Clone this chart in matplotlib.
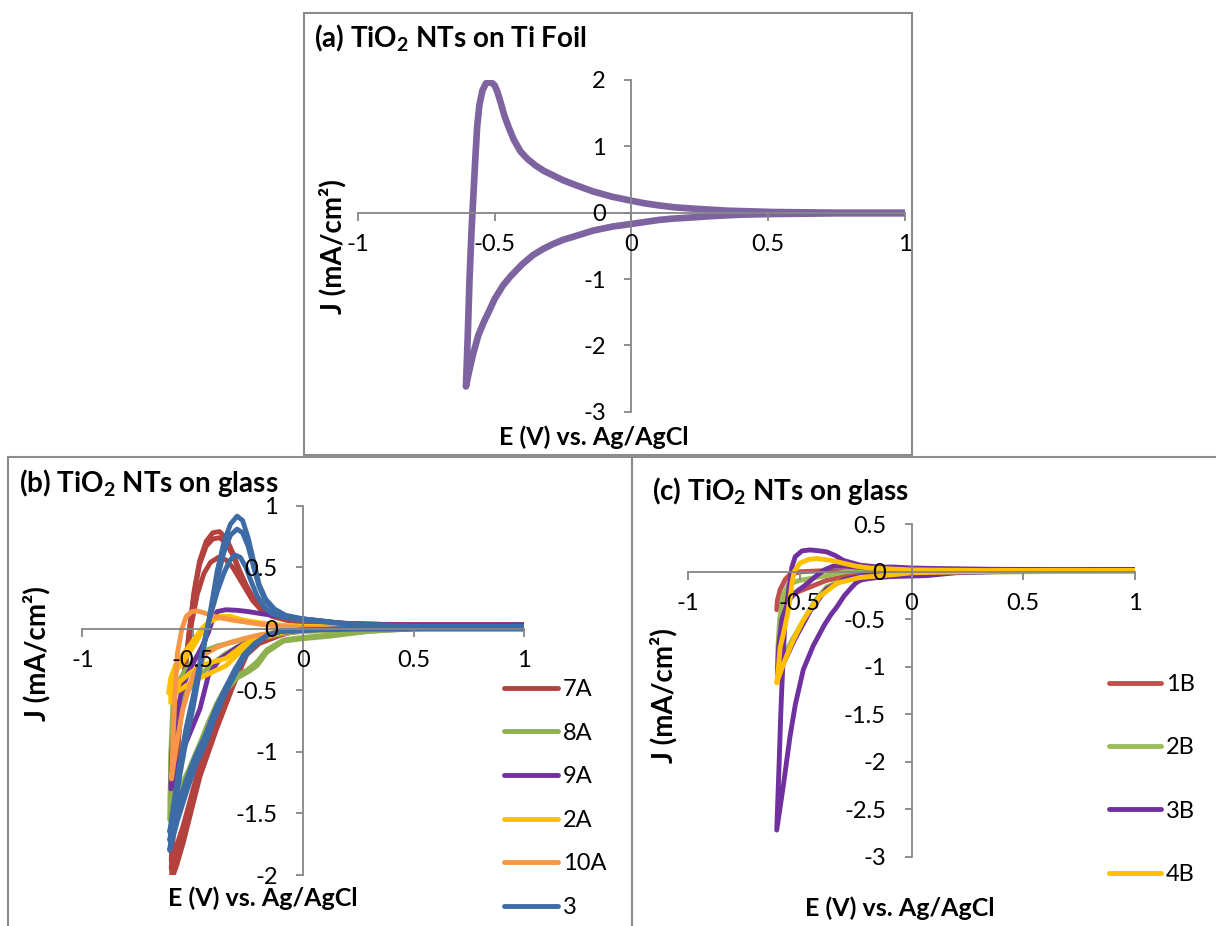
import matplotlib
matplotlib.use("Agg")
import matplotlib.pyplot as plt
from matplotlib.patches import Rectangle

plt.rcParams['font.family'] = ['Lato', 'DejaVu Sans']
plt.rcParams['axes.unicode_minus'] = False
plt.rcParams['mathtext.fontset'] = 'custom'
plt.rcParams['mathtext.rm'] = 'Lato:bold'
plt.rcParams['mathtext.default'] = 'rm'

# ---------------- data ----------------
x_ticks = [-1, -0.5, 0, 0.5, 1]
x_tick_labels = ['-1', '-0.5', '0', '0.5', '1']
a_y_ticks = [2, 1, 0, -1, -2, -3]
b_y_ticks = [1, 0.5, 0, -0.5, -1, -1.5, -2]
c_y_ticks = [0.5, 0, -0.5, -1, -1.5, -2, -2.5, -3]

# (a) TiO2 NTs on Ti foil: one cycle (E in V, J in mA/cm2)
a_E = [1.0, 0.75, 0.52, 0.4, 0.3, 0.23, 0.15, 0.1, 0.05, 0.0, -0.07, -0.14, -0.21, -0.25,
       -0.285, -0.32, -0.36, -0.4, -0.44, -0.47, -0.5, -0.52, -0.54, -0.56, -0.58, -0.595,
       -0.605,
       -0.598, -0.592, -0.585, -0.578, -0.571, -0.564, -0.556, -0.545, -0.532, -0.515,
       -0.5, -0.49, -0.478, -0.465, -0.45, -0.43, -0.405, -0.38, -0.35, -0.32, -0.285,
       -0.25, -0.2, -0.14, -0.07, 0.0, 0.05, 0.1, 0.16, 0.23, 0.35, 0.52, 0.75, 1.0]
a_J = [-0.01, -0.01, -0.02, -0.03, -0.05, -0.07, -0.09, -0.11, -0.14, -0.17, -0.21, -0.27,
       -0.36, -0.41, -0.47, -0.54, -0.64, -0.78, -0.95, -1.1, -1.3, -1.48, -1.65, -1.85,
       -2.15, -2.42, -2.62,
       -1.8, -1.0, -0.3, 0.25, 0.8, 1.3, 1.62, 1.84, 1.95, 1.97,
       1.92, 1.82, 1.66, 1.47, 1.3, 1.1, 0.92, 0.81, 0.71, 0.63, 0.56,
       0.49, 0.41, 0.32, 0.24, 0.18, 0.14, 0.11, 0.08, 0.06, 0.03, 0.01, 0.0, 0.0]

# (b) TiO2 NTs on glass, series A (several cycles each)
b_labels = ['7A', '8A', '9A', '2A', '10A', '3']
b_colors = ['#B3423E', '#8FB04E', '#7030A0', '#FFC000', '#F79646', '#3D6BA6']

b_7A_E = [
    [1, 0.5, 0.2, 0.0, -0.1, -0.2, -0.256, -0.317, -0.392, -0.468, -0.544, -0.575, -0.597,
     -0.585, -0.565, -0.54, -0.515, -0.495, -0.47, -0.44, -0.41, -0.38, -0.35, -0.32,
     -0.29, -0.26, -0.23, -0.19, -0.14, -0.08, 0.0, 0.25, 0.5, 1],
    [1, 0.5, 0.2, 0.0, -0.1, -0.2, -0.256, -0.317, -0.392, -0.468, -0.544, -0.575, -0.598,
     -0.585, -0.565, -0.54, -0.515, -0.495, -0.47, -0.44, -0.41, -0.38, -0.35, -0.32,
     -0.29, -0.26, -0.23, -0.19, -0.14, -0.08, 0.0, 0.25, 0.5, 1],
    [1, 0.5, 0.2, 0.0, -0.1, -0.2, -0.256, -0.317, -0.392, -0.468, -0.544, -0.575, -0.598,
     -0.585, -0.56, -0.53, -0.505, -0.48, -0.45, -0.42, -0.385, -0.35, -0.32,
     -0.29, -0.26, -0.23, -0.19, -0.14, -0.08, 0.0, 0.5, 1],
]
b_7A_J = [
    [0.03, 0.03, 0.02, 0.0, -0.05, -0.12, -0.21, -0.46, -0.81, -1.2, -1.74, -1.93, -2.04,
     -1.5, -0.9, -0.4, 0.0, 0.3, 0.55, 0.71, 0.78, 0.79, 0.74, 0.62,
     0.48, 0.36, 0.26, 0.17, 0.11, 0.08, 0.06, 0.04, 0.03, 0.03],
    [0.03, 0.03, 0.02, 0.0, -0.04, -0.1, -0.19, -0.43, -0.77, -1.15, -1.68, -1.85, -1.95,
     -1.4, -0.85, -0.38, 0.0, 0.28, 0.52, 0.67, 0.73, 0.74, 0.70, 0.6,
     0.47, 0.35, 0.25, 0.16, 0.11, 0.08, 0.06, 0.04, 0.03, 0.03],
    [0.03, 0.03, 0.02, 0.0, -0.04, -0.1, -0.18, -0.41, -0.74, -1.1, -1.6, -1.77, -1.88,
     -1.3, -0.7, -0.25, 0.05, 0.28, 0.45, 0.54, 0.58, 0.56, 0.5,
     0.41, 0.32, 0.23, 0.15, 0.1, 0.07, 0.05, 0.03, 0.03],
]

b_8A_E = [
    [1, 0.5, 0.3, 0.12, 0.0, -0.09, -0.165, -0.21, -0.25, -0.3, -0.35, -0.39, -0.43,
     -0.468, -0.52, -0.56, -0.605,
     -0.6, -0.585, -0.56, -0.52, -0.47, -0.41, -0.35, -0.28, -0.2, -0.1, 0.0, 0.3, 1],
    [1, 0.5, 0.3, 0.12, 0.0, -0.09, -0.165, -0.21, -0.25, -0.3, -0.35, -0.39, -0.43,
     -0.468, -0.52, -0.56, -0.603,
     -0.6, -0.59, -0.57, -0.54, -0.5, -0.45, -0.39, -0.3, -0.2, -0.1, 0.0, 0.3, 1],
]
b_8A_J = [
    [0.02, 0.0, -0.02, -0.06, -0.08, -0.1, -0.19, -0.3, -0.35, -0.4, -0.5, -0.65, -0.82,
     -1.0, -1.25, -1.42, -1.55,
     -1.1, -0.75, -0.6, -0.5, -0.38, -0.28, -0.2, -0.13, -0.08, -0.04, -0.02, 0.0, 0.01],
    [0.02, 0.0, -0.02, -0.05, -0.07, -0.09, -0.17, -0.27, -0.33, -0.38, -0.47, -0.6, -0.76,
     -0.93, -1.15, -1.3, -1.42,
     -1.0, -0.6, -0.45, -0.35, -0.26, -0.18, -0.14, -0.1, -0.07, -0.04, -0.02, 0.0, 0.01],
]

b_9A_E = [
    [1, 0.5, 0.2, 0.0, -0.1, -0.2, -0.3, -0.38, -0.43, -0.468, -0.53, -0.57, -0.6,
     -0.595, -0.58, -0.55, -0.52, -0.49, -0.46, -0.43, -0.41, -0.39, -0.35, -0.3,
     -0.25, -0.18, -0.1, 0.0, 0.2, 0.5, 1],
]
b_9A_J = [
    [0.03, 0.02, 0.0, -0.01, -0.03, -0.07, -0.15, -0.25, -0.38, -0.65, -0.92, -1.12, -1.3,
     -1.0, -0.75, -0.5, -0.35, -0.25, -0.15, -0.03, 0.08, 0.14, 0.155, 0.15,
     0.14, 0.12, 0.1, 0.08, 0.04, 0.03, 0.03],
]

b_2A_E = [
    [1, 0.5, 0.0, -0.1, -0.2, -0.27, -0.35, -0.41, -0.468, -0.52, -0.56, -0.6,
     -0.6, -0.58, -0.55, -0.5, -0.46, -0.42, -0.38, -0.33, -0.27, -0.2, -0.1, 0.0, 0.5, 1],
    [1, 0.5, 0.0, -0.1, -0.2, -0.27, -0.35, -0.41, -0.468, -0.52, -0.56, -0.61,
     -0.6, -0.58, -0.55, -0.5, -0.46, -0.42, -0.38, -0.33, -0.27, -0.2, -0.1, 0.0, 0.5, 1],
]
b_2A_J = [
    [0.01, 0.01, 0.0, -0.02, -0.06, -0.13, -0.24, -0.27, -0.3, -0.37, -0.43, -0.6,
     -0.45, -0.35, -0.28, -0.15, -0.03, 0.06, 0.1, 0.1, 0.07, 0.05, 0.03, 0.02, 0.01, 0.01],
    [0.01, 0.01, 0.0, -0.03, -0.08, -0.16, -0.3, -0.35, -0.4, -0.45, -0.5, -0.52,
     -0.4, -0.3, -0.22, -0.1, 0.0, 0.07, 0.09, 0.08, 0.06, 0.04, 0.02, 0.01, 0.01, 0.01],
]

b_10A_E = [
    [1, 0.5, 0.0, -0.1, -0.2, -0.27, -0.33, -0.39, -0.44, -0.5, -0.545, -0.575, -0.597,
     -0.59, -0.58, -0.57, -0.55, -0.53, -0.505, -0.48, -0.45, -0.4, -0.32, -0.2, -0.1,
     0.0, 0.5, 1],
]
b_10A_J = [
    [0.01, 0.01, 0.0, -0.02, -0.05, -0.08, -0.11, -0.15, -0.2, -0.38, -0.65, -0.95, -1.22,
     -0.9, -0.5, -0.2, 0.0, 0.1, 0.14, 0.145, 0.13, 0.1, 0.07, 0.04, 0.02,
     0.01, 0.01, 0.01],
]

b_3_E = [
    [1, 0.5, 0.2, 0.0, -0.1, -0.16, -0.22, -0.27, -0.31, -0.35, -0.4, -0.44, -0.49, -0.53,
     -0.57, -0.605,
     -0.585, -0.56, -0.53, -0.5, -0.475, -0.455, -0.44, -0.42, -0.39, -0.36, -0.33, -0.3,
     -0.275, -0.25, -0.225, -0.2, -0.17, -0.13, -0.08, 0.0, 0.2, 0.5, 1],
    [1, 0.5, 0.2, 0.0, -0.1, -0.16, -0.22, -0.27, -0.31, -0.35, -0.4, -0.44, -0.49, -0.53,
     -0.57, -0.605,
     -0.585, -0.56, -0.53, -0.5, -0.475, -0.455, -0.44, -0.42, -0.39, -0.36, -0.33, -0.3,
     -0.275, -0.25, -0.225, -0.2, -0.17, -0.13, -0.08, 0.0, 0.2, 0.5, 1],
    [1, 0.5, 0.2, 0.0, -0.1, -0.16, -0.22, -0.27, -0.31, -0.35, -0.4, -0.44, -0.49, -0.53,
     -0.57, -0.605,
     -0.585, -0.56, -0.53, -0.5, -0.475, -0.455, -0.44, -0.42, -0.39, -0.36, -0.335, -0.31,
     -0.285, -0.26, -0.235, -0.21, -0.18, -0.14, -0.08, 0.0, 0.2, 0.5, 1],
]
b_3_J = [
    [0.0, 0.0, 0.0, -0.01, -0.02, -0.05, -0.13, -0.24, -0.37, -0.51, -0.72, -0.92, -1.12,
     -1.33, -1.56, -1.8,
     -1.5, -1.2, -0.9, -0.65, -0.4, -0.19, -0.05, 0.15, 0.47, 0.7, 0.85, 0.915,
     0.88, 0.74, 0.55, 0.36, 0.24, 0.16, 0.11, 0.08, 0.04, 0.02, 0.02],
    [0.0, 0.0, 0.0, -0.01, -0.02, -0.05, -0.12, -0.22, -0.35, -0.49, -0.69, -0.89, -1.08,
     -1.28, -1.5, -1.72,
     -1.45, -1.15, -0.85, -0.6, -0.37, -0.18, -0.05, 0.13, 0.4, 0.62, 0.76, 0.81,
     0.78, 0.67, 0.5, 0.34, 0.22, 0.15, 0.1, 0.08, 0.04, 0.02, 0.02],
    [0.0, 0.0, 0.0, -0.01, -0.02, -0.05, -0.12, -0.21, -0.33, -0.47, -0.66, -0.85, -1.04,
     -1.23, -1.44, -1.65,
     -1.4, -1.1, -0.8, -0.56, -0.34, -0.16, -0.04, 0.11, 0.3, 0.45, 0.55, 0.6,
     0.58, 0.5, 0.38, 0.27, 0.18, 0.12, 0.09, 0.07, 0.04, 0.02, 0.02],
]

b_E = [b_7A_E, b_8A_E, b_9A_E, b_2A_E, b_10A_E, b_3_E]
b_J = [b_7A_J, b_8A_J, b_9A_J, b_2A_J, b_10A_J, b_3_J]

# (c) TiO2 NTs on glass, series B
c_labels = ['1B', '2B', '3B', '4B']
c_colors = ['#C0504D', '#9BBB59', '#7030A0', '#FFC000']

c_1B_E = [
    [1, 0.5, 0.0, -0.2, -0.3, -0.38, -0.454, -0.529, -0.57, -0.603,
     -0.6, -0.588, -0.565, -0.544, -0.5, -0.41, -0.3, 0.0, 1],
]
c_1B_J = [
    [0.01, 0.01, 0.0, -0.01, -0.05, -0.09, -0.16, -0.23, -0.3, -0.4,
     -0.3, -0.19, -0.08, -0.03, 0.0, 0.01, 0.01, 0.01, 0.01],
]

c_2B_E = [
    [1, 0.5, 0.0, -0.15, -0.25, -0.32, -0.38, -0.43, -0.48, -0.53, -0.57, -0.6,
     -0.598, -0.59, -0.575, -0.55, -0.5, -0.45, -0.38, -0.3, -0.2, 0.0, 1],
]
c_2B_J = [
    [0.01, 0.0, -0.01, -0.03, -0.06, -0.1, -0.16, -0.3, -0.5, -0.7, -0.88, -1.02,
     -0.8, -0.5, -0.25, -0.13, -0.09, -0.07, -0.04, 0.0, 0.02, 0.02, 0.01],
]

c_3B_E = [
    [1, 0.5, 0.2, 0.0, -0.2, -0.3, -0.38, -0.45, -0.52, -0.57, -0.6,
     -0.595, -0.58, -0.55, -0.51, -0.48, -0.43, -0.39, -0.35, -0.3, -0.2, 0.0, 1],
    [1, 0.5, 0.2, 0.07, -0.083, -0.15, -0.2, -0.23, -0.25, -0.27, -0.3, -0.334, -0.36,
     -0.39, -0.44, -0.484, -0.52, -0.544, -0.574, -0.603,
     -0.592, -0.585, -0.58, -0.572, -0.566, -0.55, -0.535, -0.52, -0.49, -0.454, -0.41,
     -0.38, -0.34, -0.305, -0.26, -0.23, -0.15, -0.08, 0.0, 0.2, 0.5, 1],
]
c_3B_J = [
    [0.02, 0.01, 0.0, -0.01, -0.03, -0.08, -0.18, -0.4, -0.7, -0.95, -1.1,
     -0.8, -0.5, -0.3, -0.2, -0.15, -0.05, 0.02, 0.06, 0.06, 0.04, 0.03, 0.02],
    [0.02, 0.01, -0.01, -0.04, -0.05, -0.06, -0.075, -0.09, -0.12, -0.17, -0.25, -0.37, -0.45,
     -0.56, -0.78, -1.03, -1.4, -1.74, -2.26, -2.72,
     -2.0, -1.5, -1.21, -0.8, -0.51, -0.2, 0.05, 0.16, 0.22, 0.23, 0.22,
     0.21, 0.17, 0.12, 0.09, 0.07, 0.05, 0.05, 0.04, 0.03, 0.02, 0.02],
]

c_4B_E = [
    [1, 0.5, 0.0, -0.08, -0.23, -0.334, -0.41, -0.454, -0.484, -0.529, -0.57, -0.603,
     -0.595, -0.588, -0.57, -0.555, -0.544, -0.535, -0.525, -0.5, -0.46, -0.424, -0.36,
     -0.305, -0.25, -0.19, -0.1, 0.0, 0.5, 1],
]
c_4B_J = [
    [0.01, 0.01, -0.01, -0.03, -0.06, -0.12, -0.26, -0.4, -0.51, -0.72, -0.95, -1.17,
     -1.0, -0.8, -0.62, -0.45, -0.3, -0.12, 0.0, 0.09, 0.13, 0.14, 0.12,
     0.09, 0.06, 0.04, 0.03, 0.02, 0.01, 0.01],
]

c_E = [c_1B_E, c_2B_E, c_3B_E, c_4B_E]
c_J = [c_1B_J, c_2B_J, c_3B_J, c_4B_J]

# ---------------- figure ----------------
W, H = 1216, 926
fig = plt.figure(figsize=(W / 100, H / 100), dpi=100)
fig.patch.set_facecolor('white')

def fx(px):
    return px / W

def fy(py):
    return 1 - py / H

# panel borders
border_col = '#8C8C8C'
for (x0, y0, x1, y1) in [(304, 13, 912, 455), (8, 457, 632, 935), (632, 457, 1225, 935)]:
    fig.patches.append(Rectangle((fx(x0), fy(y1)), fx(x1) - fx(x0), fy(y0) - fy(y1),
                                 transform=fig.transFigure, fill=False,
                                 edgecolor=border_col, linewidth=1.5, zorder=0))

axis_col = '#868686'
TICK_FS = 17
XLABEL_FS = 18
YLABEL_FS = 20
TITLE_FS = 20

def style_axes(ax, ylim, yticks):
    ax.set_xlim(-1, 1)
    ax.set_ylim(*ylim)
    ax.set_facecolor('none')
    for s in ['top', 'right']:
        ax.spines[s].set_visible(False)
    ax.spines['left'].set_position(('data', 0))
    ax.spines['bottom'].set_position(('data', 0))
    for s in ['left', 'bottom']:
        ax.spines[s].set_color(axis_col)
        ax.spines[s].set_linewidth(1.3)
    ax.set_xticks(x_ticks)
    ax.set_xticklabels(x_tick_labels)
    ax.set_yticks(yticks)
    ax.set_yticklabels([('%g' % v) for v in yticks])
    ax.tick_params(axis='both', direction='out', length=5.4, width=1.3, color=axis_col,
                   labelsize=TICK_FS, labelcolor='black')
    ax.tick_params(axis='x', pad=10)
    ax.tick_params(axis='y', pad=13)
    ax.set_axisbelow(False)

# (a)
ax_a = fig.add_axes([fx(358), fy(411.7), fx(904.7) - fx(358), fy(80) - fy(411.7)])
style_axes(ax_a, (-3, 2), a_y_ticks)
ax_a.plot(a_E, a_J, color='#7E63A1', lw=4.8, solid_capstyle='round',
          solid_joinstyle='round', zorder=2)

# (b)
ax_b = fig.add_axes([fx(82.4), fy(875), fx(524.3) - fx(82.4), fy(505.7) - fy(875)])
style_axes(ax_b, (-2, 1), b_y_ticks)
handles_b = []
for lab, col, Es, Js in zip(b_labels, b_colors, b_E, b_J):
    h = None
    for e, j in zip(Es, Js):
        h, = ax_b.plot(e, j, color=col, lw=3.5, solid_capstyle='round',
                       solid_joinstyle='round', zorder=2)
    handles_b.append(h)
ax_b.legend(handles_b, b_labels, loc='center left', bbox_to_anchor=(fx(504), fy(798.5)),
            bbox_transform=fig.transFigure, frameon=False, fontsize=TICK_FS,
            handlelength=2.29, handletextpad=0.2, labelspacing=0.96, borderpad=0,
            borderaxespad=0)

# (c)
ax_c = fig.add_axes([fx(688), fy(856.7), fx(1135) - fx(688), fy(524.3) - fy(856.7)])
style_axes(ax_c, (-3, 0.5), c_y_ticks)
handles_c = []
for lab, col, Es, Js in zip(c_labels, c_colors, c_E, c_J):
    h = None
    for e, j in zip(Es, Js):
        h, = ax_c.plot(e, j, color=col, lw=3.5, solid_capstyle='round',
                       solid_joinstyle='round', zorder=2)
    handles_c.append(h)
ax_c.legend(handles_c, c_labels, loc='center left', bbox_to_anchor=(fx(1109), fy(779.5)),
            bbox_transform=fig.transFigure, frameon=False, fontsize=TICK_FS,
            handlelength=2.2, handletextpad=0.2, labelspacing=1.79, borderpad=0,
            borderaxespad=0)

# titles
fig.text(fx(314), fy(47), r'(a) TiO$_2$ NTs on Ti Foil', fontsize=TITLE_FS,
         fontweight='bold', ha='left', va='baseline')
fig.text(fx(19), fy(491.7), r'(b) TiO$_2$ NTs on glass', fontsize=TITLE_FS,
         fontweight='bold', ha='left', va='baseline')
fig.text(fx(652), fy(500), r'(c) TiO$_2$ NTs on glass', fontsize=TITLE_FS,
         fontweight='bold', ha='left', va='baseline')

# axis labels
ylab = 'J (mA/cm²)'
xlab = 'E (V) vs. Ag/AgCl'
for (x, y) in [(333, 247), (37, 654), (664, 696)]:
    fig.text(fx(x), fy(y), ylab, rotation=90, fontsize=YLABEL_FS, fontweight='bold',
             ha='center', va='center')
for (x, y) in [(594, 437), (263, 898), (900, 908)]:
    fig.text(fx(x), fy(y), xlab, fontsize=XLABEL_FS, fontweight='bold',
             ha='center', va='center')

fig.savefig('out.png', dpi=100, facecolor='white')
